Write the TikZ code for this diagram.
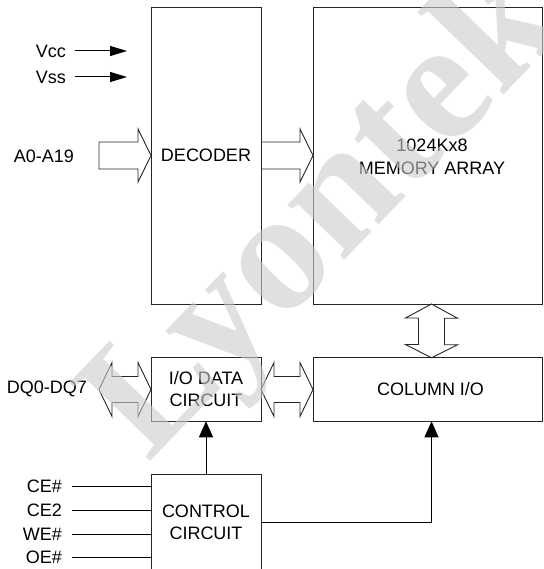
\documentclass[tikz,border=0pt]{standalone}
\usepackage{fontspec}
\setmainfont{Liberation Sans}
\newfontfamily\wmfont{Liberation Serif}
\usetikzlibrary{arrows.meta,calc}
\tikzset{
  box/.style={draw=black!85, line width=0.9pt, inner sep=0pt, outer sep=0pt, align=center, font=\fontsize{18}{22}\selectfont},
  lbl/.style={inner sep=0pt, anchor=east, font=\fontsize{18}{22}\selectfont},
  fat/.style={draw=black!85, line width=0.9pt, line join=miter},
  sig/.style={draw=black, line width=1pt},
  sigarrow/.style={sig, -{Triangle[length=17pt,width=10pt]}},
  uparrow/.style={sig, -{Triangle[length=16pt,width=14pt]}},
}
\begin{document}
\begin{tikzpicture}[x=1pt,y=-1pt]
\useasboundingbox (0,0) rectangle (543,569);
\clip (0,0) rectangle (543,569);
\fill[white] (0,0) rectangle (543,569);
% blocks
\node[box, minimum width=110, minimum height=297] (dec) at (206,155.5) {DECODER};
\node[box, minimum width=229, minimum height=297] (mem) at (427.5,155.5) {};
\node[font=\fontsize{18}{23}\selectfont, align=center] (memtxt) at (432,156.5) {1024Kx8\\MEMORY ARRAY};
\node[box, minimum width=110, minimum height=63.5] (io) at (206,389.5) {I/O DATA\\CIRCUIT};
\node[box, minimum width=229, minimum height=63.5] (col) at (427.5,389.5) {};
\node[font=\fontsize{18}{22}\selectfont] (coltxt) at (430.5,389.5) {COLUMN I/O};
\node[box, draw=none, minimum width=110, minimum height=96, anchor=north] (ctl) at (206,474) {CONTROL\\CIRCUIT};
\draw[box] (ctl.south west) -- (ctl.north west) -- (ctl.north east) -- (ctl.south east);
\coordinate (cx) at (431.5,0);
% power inputs
\node[lbl] (vcc) at (66,51) {Vcc};
\node[lbl] (vss) at (66,77) {Vss};
\coordinate (vcce) at (127,51);
\coordinate (vsse) at (127,77);
\draw[sigarrow] ([xshift=9pt]vcc.east) -- (vcce);
\draw[sigarrow] ([xshift=9pt]vss.east) -- (vsse);
% address bus
\node[lbl] (addr) at (74,156) {A0-A19};
\coordinate (a0s) at (99,155.5);
\draw[fat] ($(a0s)+(0,-13.5)$) -- ++(39,0) -- ++(0,-13) -- (dec.west) -- ++(-13,26.5) -- ++(0,-13) -- ($(a0s)+(0,13.5)$) -- cycle;
% decoder to memory
\draw[fat] ($(dec.east)+(0,-13.5)$) -- ++(39,0) -- ++(0,-13) -- (mem.west) -- ++(-13,26.5) -- ++(0,-13) -- ($(dec.east)+(0,13.5)$);
% memory <-> column I/O
\draw[fat] (mem.south -| cx) -- ++(-26,14) -- ++(13,0) -- ++(0,26.5) -- ++(-13,0) -- (col.north -| cx) -- ++(26,-13) -- ++(-13,0) -- ++(0,-26.5) -- ++(13,0) -- cycle;
% data bus
\node[lbl] (dq) at (87,389) {DQ0-DQ7};
\coordinate (dqs) at (99,389.5);
\draw[fat] (dqs) -- ++(13,-27) -- ++(0,14) -- ++(26,0) -- ++(0,-14) -- (io.west) -- ++(-13,27) -- ++(0,-14) -- ++(-26,0) -- ++(0,14) -- cycle;
\draw[fat] (io.east) -- ++(13,-27) -- ++(0,14) -- ++(26,0) -- ++(0,-14) -- (col.west) -- ++(-13,27) -- ++(0,-14) -- ++(-26,0) -- ++(0,14) -- cycle;
% control
\draw[uparrow] (ctl.north) -- (io.south);
\draw[uparrow] (ctl.east) -| (col.south -| cx);
\foreach \n/\t/\y in {ce/CE\#/486, cetwo/CE2/510, we/WE\#/534, oe/OE\#/557}{
  \node[lbl] (\n) at (62,\y) {\t};
  \draw[sig] ([xshift=10pt]\n.east) -- (ctl.west |- \n);
}
% watermark
\node[text=black!20, opacity=0.6, rotate=46, font=\wmfont\bfseries\fontsize{172}{172}\selectfont] (wm) at (328,218) {Lyontek};
\end{tikzpicture}
\end{document}
